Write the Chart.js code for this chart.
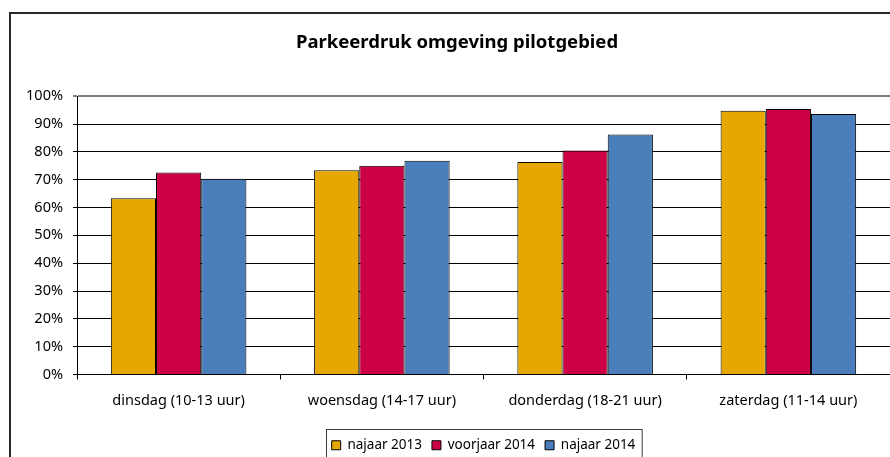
<!DOCTYPE html>
<html>
<head>
<meta charset="utf-8">
<script src="https://cdn.jsdelivr.net/npm/chart.js@4/dist/chart.umd.min.js"></script>
<style>
  html, body { margin: 0; padding: 0; background: #fff; }
  #wrap { width: 890px; height: 457px; position: relative; }
</style>
</head>
<body>
<div id="wrap"><canvas id="chart"></canvas></div>
<script>
const categories = [
  'dinsdag (10-13 uur)',
  'woensdag (14-17 uur)',
  'donderdag (18-21 uur)',
  'zaterdag (11-14 uur)',
];
const seriesNames = ['najaar 2013', 'voorjaar 2014', 'najaar 2014'];
const najaar2013 = [63.3, 73.4, 76.4, 94.8];
const voorjaar2014 = [72.6, 75.0, 80.5, 95.4];
const najaar2014 = [70.3, 76.8, 86.2, 93.6];
const yTicks = [0, 10, 20, 30, 40, 50, 60, 70, 80, 90, 100];

const colors = ['rgb(230, 168, 0)', 'rgb(204, 0, 68)', 'rgb(74, 126, 187)'];
const FONT = "'Noto Sans', sans-serif";

// Rand om de hele grafiek + rand om de legenda
const frames = {
  id: 'frames',
  afterLayout(chart) {
    // titel staat iets links van het midden (gecentreerd op het kader)
    chart.titleBlock.left = 24;
  },
  beforeDraw(chart) {
    const { ctx, width, height } = chart;
    ctx.save();
    ctx.fillStyle = '#fff';
    ctx.fillRect(0, 0, width, height);
    ctx.restore();
  },
  afterDraw(chart) {
    const { ctx } = chart;
    ctx.save();
    ctx.lineWidth = 2;
    ctx.strokeStyle = 'rgba(40, 40, 40, 1)';
    ctx.strokeRect(10, 13, 900, 500);

    const boxes = chart.legend.legendHitBoxes;
    if (boxes && boxes.length) {
      const left = Math.min(...boxes.map((b) => b.left)) - 6;
      const right = Math.max(...boxes.map((b) => b.left + b.width)) + 6;
      const top = boxes[0].top + boxes[0].height / 2 - 16;
      ctx.lineWidth = 1;
      ctx.strokeStyle = 'rgba(60, 60, 60, 1)';
      ctx.strokeRect(Math.round(left) + 0.5, Math.round(top) + 0.5, right - left, 100);
    }
    ctx.restore();
  },
};

new Chart(document.getElementById('chart'), {
  type: 'bar',
  data: {
    labels: categories,
    datasets: [najaar2013, voorjaar2014, najaar2014].map((values, i) => ({
      label: seriesNames[i],
      data: values,
      backgroundColor: colors[i],
      borderColor: '#000',
      borderWidth: 1,
      categoryPercentage: 0.667,
      barPercentage: 1,
    })),
  },
  options: {
    responsive: true,
    maintainAspectRatio: false,
    animation: false,
    layout: {
      padding: { left: 0, right: 0, top: 0, bottom: -5 },
    },
    plugins: {
      title: {
        display: true,
        text: 'Parkeerdruk omgeving pilotgebied',
        color: '#000',
        font: { family: FONT, size: 18.5, weight: 'bold' },
        padding: { top: 32, bottom: 42 },
      },
      legend: {
        position: 'bottom',
        fullSize: false,
        labels: {
          color: '#000',
          font: { family: FONT, size: 13.5 },
          boxWidth: 9,
          boxHeight: 9,
          padding: 10,
        },
      },
      tooltip: { enabled: false },
    },
    scales: {
      x: {
        afterFit(scale) {
          scale.height = 54;
        },
        ticks: {
          color: '#000',
          padding: 13,
          font: { family: FONT, size: 14.5 },
        },
        grid: {
          offset: true,
          drawOnChartArea: false,
          tickLength: 5,
          color: '#000',
        },
        border: { display: true, color: '#000', width: 1 },
      },
      y: {
        min: 0,
        max: 100,
        afterFit(scale) {
          scale.width = 77;
        },
        afterBuildTicks(scale) {
          scale.ticks = yTicks.map((v) => ({ value: v }));
        },
        ticks: {
          color: '#000',
          padding: 10,
          font: { family: FONT, size: 14.5 },
          callback: (v) => v + '%',
        },
        grid: {
          tickLength: 4,
          color: (c) => (c.tick && c.tick.value === 100 ? '#808080' : '#000'),
          lineWidth: (c) => (c.tick && c.tick.value === 100 ? 2 : 1),
        },
        border: { display: true, color: '#000', width: 1 },
      },
    },
  },
  plugins: [frames],
});
</script>
</body>
</html>
